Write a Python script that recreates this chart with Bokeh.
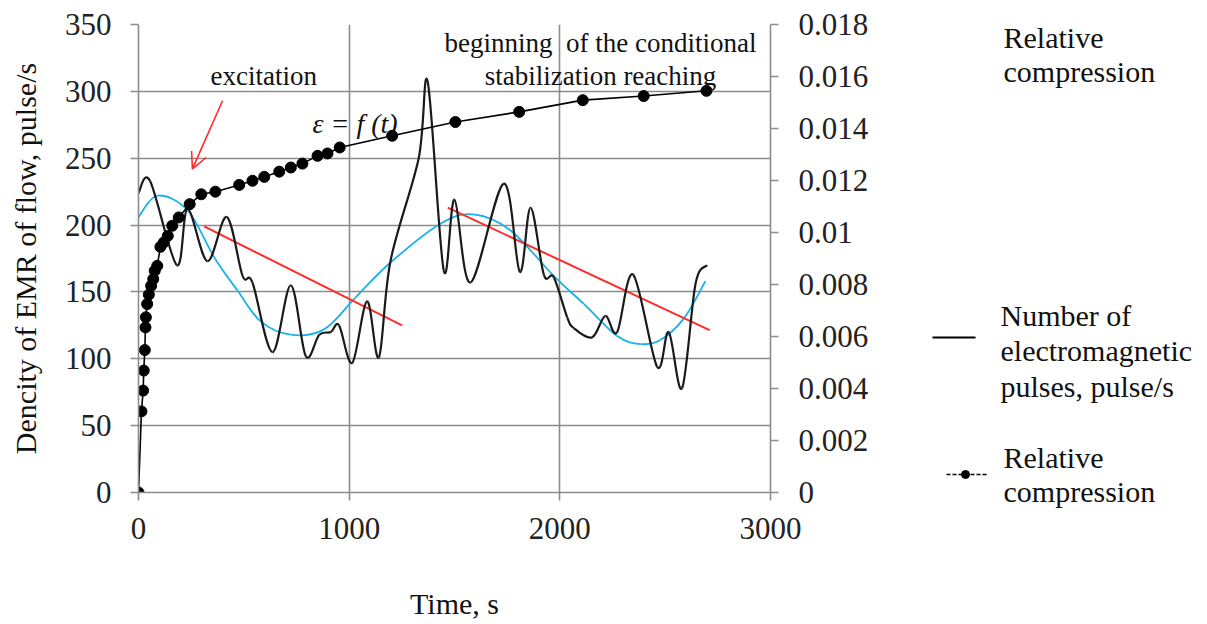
from bokeh.plotting import figure
from bokeh.models import (Range1d, LinearAxis, FixedTicker, CustomJSTickFormatter,
                          Label, Arrow, OpenHead)
from bokeh.layouts import row
from bokeh.embed import file_html
from bokeh.resources import INLINE

# ---------------- data ----------------
time_emr = [0, 55, 182, 233, 327, 419, 494, 541, 636, 723, 794, 858, 913, 952, 1015,
            1085, 1141, 1196, 1330, 1373, 1449, 1500, 1576, 1734, 1810, 1861, 1924,
            1971, 2035, 2066, 2153, 2216, 2272, 2348, 2462, 2517, 2580, 2644, 2699]
emr = [224, 233, 170, 212, 173, 206, 162, 157, 105, 155, 102, 118, 120, 125, 97,
       143, 101, 173, 250, 307, 166, 219, 157, 231, 165, 213, 163,
       161, 131, 123, 116, 132, 120, 163, 94, 120, 78, 156, 170]

time_fit = [0, 90, 233, 359, 470, 580, 723, 881, 1031, 1196, 1433, 1591, 1766,
            1971, 2114, 2272, 2383, 2477, 2588, 2691]
fit = [206, 222, 211, 176, 151, 128, 118, 122, 146, 172, 201, 208, 196,
       162, 141, 117, 111, 114, 130, 158]

trend1_t = [312, 1251]
trend1 = [199, 125]
trend2_t = [1468, 2711]
trend2 = [213, 121.5]

time_rel = [0, 14, 22, 25, 30, 33, 35, 41, 49, 60, 70, 77, 89, 104, 120, 139, 160,
            191, 243, 298, 365, 478, 541, 597, 668, 723, 778, 850, 897, 955, 1204,
            1504, 1807, 2109, 2398, 2696]
rel = [0, 0.00312, 0.00392, 0.00469, 0.00548, 0.00635, 0.00674, 0.00725, 0.00761,
       0.00795, 0.00821, 0.00853, 0.00872, 0.00945, 0.00962, 0.00987, 0.01026,
       0.01058, 0.01109, 0.01147, 0.01157, 0.01183, 0.01199, 0.01214, 0.01234,
       0.0125, 0.01265, 0.01295, 0.01304, 0.01327, 0.01372, 0.01425, 0.01464,
       0.01509, 0.01525, 0.01545]

x_ticks = [0, 1000, 2000, 3000]
y_ticks = [0, 50, 100, 150, 200, 250, 300, 350]
rel_ticks = [0, 0.002, 0.004, 0.006, 0.008, 0.01, 0.012, 0.014, 0.016, 0.018]

SERIF = "Liberation Serif"
GRID = "#8c8c8c"


def bezier_parts(xs, ys):
    """Catmull-Rom style smoothing (like a spreadsheet's smoothed line)."""
    n = len(xs)
    out = dict(x0=[], y0=[], x1=[], y1=[], cx0=[], cy0=[], cx1=[], cy1=[])
    for i in range(n - 1):
        xm, ym = (xs[i - 1], ys[i - 1]) if i > 0 else (xs[i], ys[i])
        xp, yp = (xs[i + 2], ys[i + 2]) if i + 2 < n else (xs[i + 1], ys[i + 1])
        out["x0"].append(xs[i]); out["y0"].append(ys[i])
        out["x1"].append(xs[i + 1]); out["y1"].append(ys[i + 1])
        out["cx0"].append(xs[i] + (xs[i + 1] - xm) / 6.0)
        out["cy0"].append(ys[i] + (ys[i + 1] - ym) / 6.0)
        out["cx1"].append(xs[i + 1] - (xp - xs[i]) / 6.0)
        out["cy1"].append(ys[i + 1] - (yp - ys[i]) / 6.0)
    return out


# ---------------- main figure ----------------
p = figure(width=890, height=624, output_backend="svg", toolbar_location=None,
           x_range=Range1d(0, 3000), y_range=Range1d(0, 350),
           min_border_left=138, min_border_right=120, min_border_top=24,
           min_border_bottom=132)
p.outline_line_color = None
p.background_fill_color = "white"
p.border_fill_color = "white"
p.extra_y_ranges = {"rel": Range1d(0, 0.018)}

for ax in (p.xaxis[0], p.yaxis[0]):
    ax.axis_line_color = GRID
    ax.axis_line_width = 1.6
    ax.major_tick_line_color = GRID
    ax.major_tick_line_width = 1.6
    ax.major_tick_in = 0
    ax.major_tick_out = 8
    ax.minor_tick_line_color = None
    ax.major_label_text_font = SERIF
    ax.major_label_text_font_size = "31px"
    ax.major_label_text_color = "#222222"
    ax.axis_label_text_font = SERIF
    ax.axis_label_text_font_size = "30px"
    ax.axis_label_text_font_style = "normal"
    ax.axis_label_text_color = "#111111"

p.xaxis.ticker = FixedTicker(ticks=x_ticks)
p.yaxis.ticker = FixedTicker(ticks=y_ticks)
p.xaxis.axis_label = "Time, s"
p.yaxis.axis_label = "Dencity of EMR of flow, pulse/s"
p.xaxis.major_label_standoff = 17
p.xaxis.axis_label_standoff = 45
p.yaxis.major_label_standoff = 19
p.yaxis.axis_label_standoff = 20

p.xgrid.ticker = FixedTicker(ticks=x_ticks)
p.ygrid.ticker = FixedTicker(ticks=y_ticks)
p.grid.grid_line_color = GRID
p.grid.grid_line_width = 1.6

rax = LinearAxis(y_range_name="rel", ticker=FixedTicker(ticks=rel_ticks),
                 formatter=CustomJSTickFormatter(
                     code="return tick.toFixed(3).replace(/\\.?0+$/, '');"))
rax.axis_line_color = GRID
rax.axis_line_width = 1.6
rax.major_tick_line_color = GRID
rax.major_tick_line_width = 1.6
rax.major_tick_in = 0
rax.major_tick_out = 8
rax.minor_tick_line_color = None
rax.major_label_text_font = SERIF
rax.major_label_text_font_size = "31px"
rax.major_label_text_color = "#222222"
rax.major_label_standoff = 20
p.add_layout(rax, "right")

# blue fitted curve
p.bezier(line_color="#19b2ea", line_width=1.8, **bezier_parts(time_fit, fit))
# red trend lines
p.line(trend1_t, trend1, line_color="#ff2a2a", line_width=2)
p.line(trend2_t, trend2, line_color="#ff2a2a", line_width=2)
# EMR pulses (black smoothed)
p.bezier(line_color="#1a1a1a", line_width=2.2, **bezier_parts(time_emr, emr))
# relative compression
p.line(time_rel, rel, y_range_name="rel", line_color="black", line_width=1.6)
p.scatter(time_rel, rel, y_range_name="rel", size=11, marker="circle",
          fill_color="black", line_color="black")

# annotations
EXC_TEXT_POS = (342, 311.5)
ARROW_FROM = (399, 293)
ARROW_TO = (256, 242)
EPS_POS = (826, 276)
BEGIN_POS = (2193, 336.4)
STAB_POS = (2193, 311.5)

p.add_layout(Label(x=EXC_TEXT_POS[0], y=EXC_TEXT_POS[1], text="excitation",
                   text_font=SERIF, text_font_size="27px", text_baseline="middle",
                   text_color="#111111"))
p.add_layout(Arrow(end=OpenHead(size=16, line_color="#ff2a2a", line_width=1.6),
                   x_start=ARROW_FROM[0], y_start=ARROW_FROM[1],
                   x_end=ARROW_TO[0], y_end=ARROW_TO[1],
                   line_color="#ff2a2a", line_width=1.6))
p.add_layout(Label(x=EPS_POS[0], y=EPS_POS[1], text="\u03b5 = f (t)",
                   text_font=SERIF, text_font_size="28px", text_font_style="italic",
                   text_baseline="middle", text_color="#111111"))
p.add_layout(Label(x=BEGIN_POS[0], y=BEGIN_POS[1], text="beginning\u00a0 of the conditional",
                   text_font=SERIF, text_font_size="27px", text_baseline="middle",
                   text_align="center", text_color="#111111"))
p.add_layout(Label(x=STAB_POS[0], y=STAB_POS[1], text="stabilization reaching",
                   text_font=SERIF, text_font_size="27px", text_baseline="middle",
                   text_align="center", text_color="#111111"))

# ---------------- legend panel ----------------
q = figure(width=317, height=624, output_backend="svg", toolbar_location=None,
           x_range=Range1d(890, 1207), y_range=Range1d(624, 0),
           x_axis_location=None, y_axis_location=None, min_border=0)
q.frame_align = False
q.outline_line_color = None
q.xgrid.visible = False
q.ygrid.visible = False

legend_lines = [("Relative", 1003, 37), ("compression", 1003, 71),
                ("Number of", 1000, 315), ("electromagnetic", 1000, 350),
                ("pulses, pulse/s", 1000, 386),
                ("Relative", 1003, 457), ("compression", 1003, 491)]
for txt, lx, ly in legend_lines:
    q.add_layout(Label(x=lx, y=ly, text=txt, text_font=SERIF, text_font_size="30px",
                       text_baseline="middle", text_color="#111111"))
q.line([932, 975], [337, 337], line_color="black", line_width=2)
q.line([946, 986], [474, 474], line_color="black", line_width=1.5, line_dash="4 2")
q.scatter([965], [474], size=8, fill_color="black", line_color="black")

layout = row(p, q)
open("out.html", "w").write(file_html(layout, INLINE))
